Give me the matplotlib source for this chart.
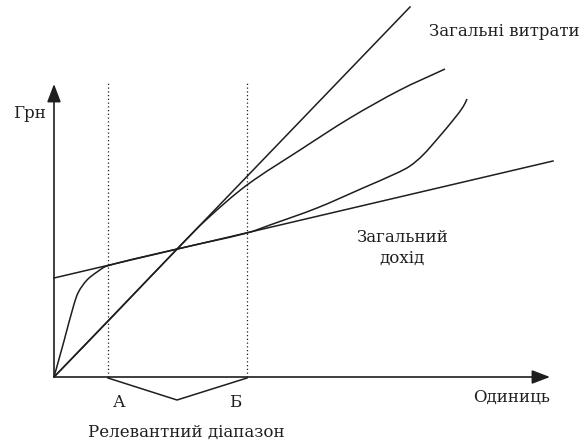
import numpy as np
import matplotlib.pyplot as plt
from matplotlib.path import Path
from matplotlib.patches import PathPatch

# Break-even chart: units on x, hryvnias on y (origin at lower-left corner of the axes)
tr_line_x = [0, 356]
tr_line_y = [0, 370]

tc_line_x = [0, 499]
tc_line_y = [99, 216]

# curved revenue
tr_curve_x = [0, 60, 124, 153, 193, 246, 296, 346, 391]
tr_curve_y = [0, 62, 129, 158, 192, 227, 259, 287, 308]

# curved cost
tc_curve_x = [0, 10, 19.5, 24.5, 33, 43, 53, 123, 193, 216, 263, 309, 343, 356, 369, 385, 400, 409, 413]
tc_curve_y = [0, 36, 71, 85, 97, 105, 111, 128, 144, 152, 169, 189, 204, 211, 222, 240, 258, 270, 278]

range_a = 54
range_b = 193
guide_top = 294
y_axis_top = 293
x_axis_end = 496

ink = '#1e1e1e'
font = ['DejaVu Serif']


def smooth_path(xs, ys):
    # cubic Bezier through the points, tangent at each point along its neighbours
    pts = np.column_stack([xs, ys]).astype(float)
    n = len(pts)
    tang = np.zeros_like(pts)
    for i in range(n):
        d = pts[min(i + 1, n - 1)] - pts[max(i - 1, 0)]
        tang[i] = d / np.hypot(*d)
    verts = [tuple(pts[0])]
    codes = [Path.MOVETO]
    for i in range(n - 1):
        seg = np.hypot(*(pts[i + 1] - pts[i])) / 3
        verts += [tuple(pts[i] + tang[i] * seg), tuple(pts[i + 1] - tang[i + 1] * seg),
                  tuple(pts[i + 1])]
        codes += [Path.CURVE4] * 3
    return Path(verts, codes)


fig = plt.figure(figsize=(5.83, 4.4), dpi=100)
ax = fig.add_axes([0, 0, 1, 1])
ax.set_xlim(-54, 529)
ax.set_ylim(-63, 377)
ax.axis('off')

# axes with arrows
arrow = dict(arrowstyle='-|>,head_length=0.55,head_width=0.21', color=ink, lw=1.2,
             mutation_scale=20, shrinkA=0, shrinkB=0)
ax.annotate('', xy=(0, y_axis_top), xytext=(0, 0), arrowprops=arrow)
ax.annotate('', xy=(x_axis_end, 0), xytext=(0, 0), arrowprops=arrow)

# relevant range guides
ax.plot([range_a, range_a], [0, guide_top], color=ink, lw=0.9, ls=(0, (1, 2)))
ax.plot([range_b, range_b], [0, guide_top], color=ink, lw=0.9, ls=(0, (1, 2)))

ax.plot(tr_line_x, tr_line_y, color=ink, lw=1.1)
ax.plot(tc_line_x, tc_line_y, color=ink, lw=1.1)
ax.add_patch(PathPatch(smooth_path(tr_curve_x, tr_curve_y), fill=False, ec=ink, lw=1.1))
ax.add_patch(PathPatch(smooth_path(tc_curve_x, tc_curve_y), fill=False, ec=ink, lw=1.1))

# bracket under the relevant range
mid = (range_a + range_b) / 2 - 0.5
ax.plot([range_a, mid, range_b], [-1, -23, -1], color=ink, lw=1.1)

fs = 12
ax.text(-25, 264, 'Грн', family=font, fontsize=fs, color=ink, ha='center', va='center')
ax.text(526, 346, 'Загальні витрати', family=font, fontsize=fs, color=ink, ha='right', va='center')
ax.text(348, 129, 'Загальний\nдохід', family=font, fontsize=fs, color=ink,
        ha='center', va='center', linespacing=1.25)
ax.text(65, -25, 'А', family=font, fontsize=fs, color=ink, ha='center', va='center')
ax.text(181, -25, 'Б', family=font, fontsize=fs, color=ink, ha='center', va='center')
ax.text(496, -20, 'Одиниць', family=font, fontsize=fs, color=ink, ha='right', va='center')
ax.text(132, -55, 'Релевантний діапазон', family=font, fontsize=fs, color=ink,
        ha='center', va='center')

fig.savefig('out.png', dpi=100)
